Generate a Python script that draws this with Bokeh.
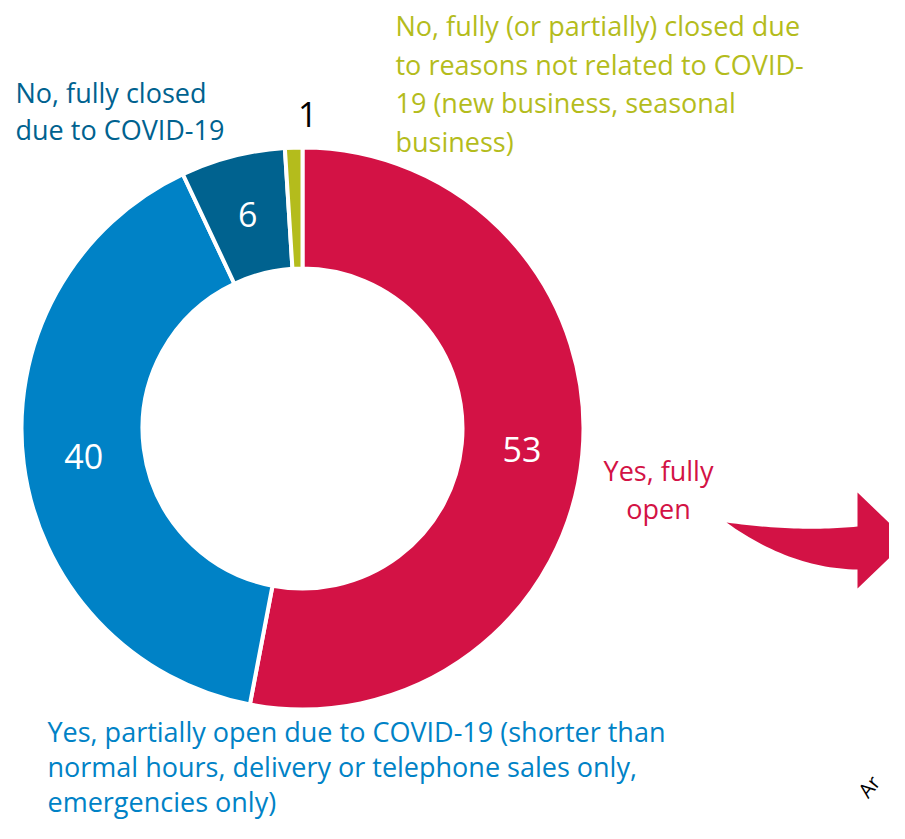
import numpy as np
from bokeh.plotting import figure
from bokeh.models import ColumnDataSource, Range1d
from bokeh.core.properties import value
from bokeh.embed import file_html
from bokeh.resources import INLINE

# ---- data ----
categories = ["Yes, fully open",
              "Yes, partially open due to COVID-19",
              "No, fully closed due to COVID-19",
              "No, fully (or partially) closed due to reasons not related to COVID-19"]
shares = [53, 40, 6, 1]
colors = ["#D31245", "#0082C6", "#00628F", "#B4BC1C"]
label_colors = ["white", "white", "white", "black"]

label_red = ["Yes, fully", "open"]
label_blue = ["Yes, partially open due to COVID-19 (shorter than",
              "normal hours, delivery or telephone sales only,",
              "emergencies only)"]
label_dblue = ["No, fully closed", "due to COVID-19"]
label_green = ["No, fully (or partially) closed due",
               "to reasons not related to COVID-",
               "19 (new business, seasonal",
               "business)"]

W, H = 889, 823
FONT = "Open Sans"
TXT = "27px"

def Y(sy):  # screen y (from top) -> data y
    return 839 - sy

p = figure(width=W, height=H, output_backend="svg", toolbar_location=None,
           x_range=Range1d(0, W), y_range=Range1d(839 - H, 839),
           min_border=0)
p.axis.visible = False
p.grid.visible = False
p.outline_line_color = None
p.background_fill_color = "white"
p.border_fill_color = "white"

cx, cy = 302, Y(428)
r_in, r_out = 160, 281

total = float(sum(shares))
cum = np.concatenate([[0], np.cumsum(shares)]) / total
start = np.pi / 2 - cum[:-1] * 2 * np.pi
end = np.pi / 2 - cum[1:] * 2 * np.pi
src = ColumnDataSource(dict(start=start, end=end, color=colors))
p.annular_wedge(x=cx, y=cy, inner_radius=r_in, outer_radius=r_out,
                start_angle="start", end_angle="end", direction="clock",
                fill_color="color", line_color="white", line_width=4, source=src)

# value labels
mid = (start + end) / 2
r_mid = (r_in + r_out) / 2
lx = cx + r_mid * np.cos(mid)
ly = cy + r_mid * np.sin(mid)
# the tiny slice's label sits outside the ring
lx[3] = cx + (r_out + 33) * np.cos(mid[3]) + 15
ly[3] = cy + (r_out + 33) * np.sin(mid[3])
lsrc = ColumnDataSource(dict(x=lx, y=ly, t=[str(s) for s in shares], c=label_colors))
p.text(x="x", y="y", text="t", text_color="c", source=lsrc,
       text_font=value(FONT), text_font_size="34px",
       text_align="center", text_baseline="middle")

def block(lines, x0, y0, step, color, align="left", size=TXT):
    ys = [Y(y0 + i * step) for i in range(len(lines))]
    p.text(x=[x0] * len(lines), y=ys, text=lines, text_color=color,
           text_font=value(FONT), text_font_size=size,
           text_align=align, text_baseline="middle")

block(label_dblue, 15, 92, 37, colors[2])
block(label_green, 395, 25, 38.5, colors[3])
block(label_red, 658, 470, 38, colors[0], align="center")
block(label_blue, 47, 731, 35, colors[1])

# decorative curved arrow
def qbez(p0, c, p1, n=30):
    t = np.linspace(0, 1, n)[:, None]
    return (1 - t) ** 2 * np.array(p0) + 2 * (1 - t) * t * np.array(c) + t ** 2 * np.array(p1)

top = qbez((726, 522), (800, 532), (857, 526))
bot = qbez((857, 569), (790, 568), (726, 522))
head = np.array([(857, 492), (907, 540), (857, 588)])
pts = np.vstack([top, head, bot])
p.patch(x=pts[:, 0], y=839 - pts[:, 1], fill_color=colors[0], line_color=None)

p.text(x=[862], y=[Y(794)], text=["Ar"], angle=0.9, text_color="black",
       text_font=value(FONT), text_font_size="20px",
       text_align="left", text_baseline="alphabetic")

open("out.html", "w").write(file_html(p, INLINE))
